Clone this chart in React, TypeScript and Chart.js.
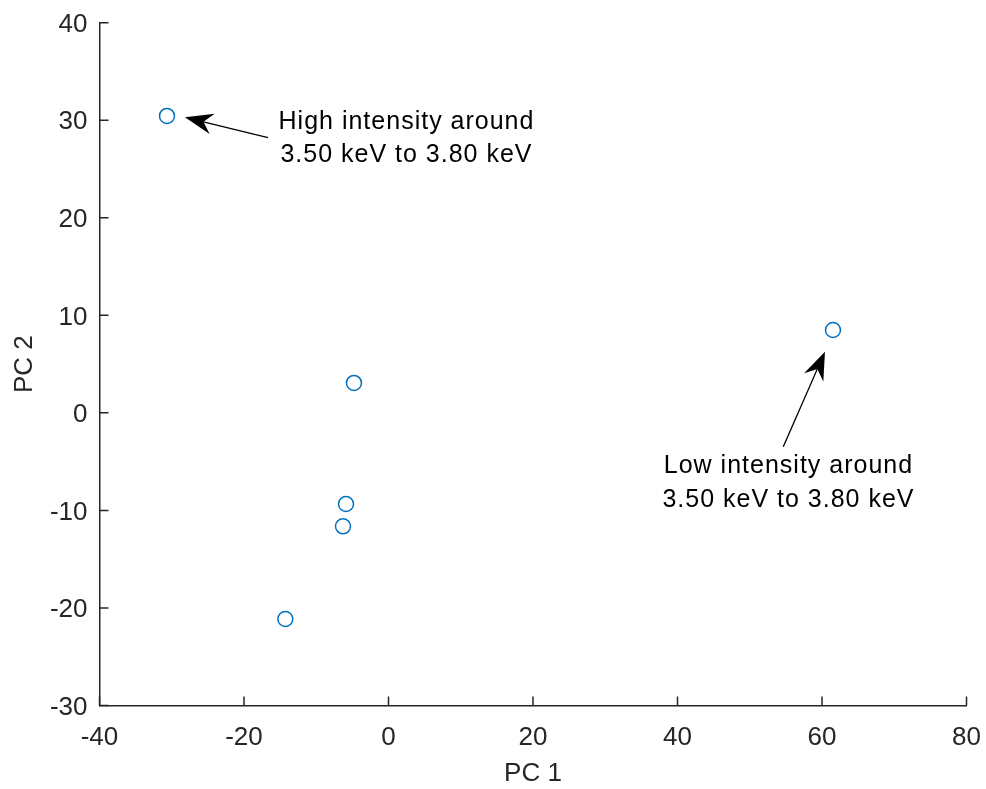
import React, { useEffect, useRef } from "react";
import { Chart, registerables } from "chart.js";

Chart.register(...registerables);

// ---- data ----
const pc1Values = [-30.66, 61.52, -4.78, -5.88, -6.3, -14.28];
const pc2Values = [30.44, 8.5, 3.07, -9.34, -11.63, -21.13];

const xTickValues = [-40, -20, 0, 20, 40, 60, 80];
const yTickValues = [-30, -20, -10, 0, 10, 20, 30, 40];

const xAxisTitle = "PC 1";
const yAxisTitle = "PC 2";

// annotation texts and their anchors (data coordinates)
const noteLines1 = ["High intensity around", "3.50 keV to 3.80 keV"];
const noteAnchor1 = [2.42, 29.79];
const arrow1 = { from: [-16.68, 28.21], to: [-28.17, 30.31] };

const noteLines2 = ["Low intensity around", "3.50 keV to 3.80 keV"];
const noteAnchor2 = [55.29, -5.47];
const arrow2 = { from: [54.64, -3.47], to: [60.41, 6.27] };

const FONT = '"Liberation Sans", Arial, Helvetica, sans-serif';
const AXIS_COLOR = "#262626";
const MARKER_COLOR = "#0072BD";

function drawArrow(ctx: CanvasRenderingContext2D, x1: number, y1: number, x2: number, y2: number) {
  const dx = x2 - x1;
  const dy = y2 - y1;
  const len = Math.hypot(dx, dy);
  const ux = dx / len;
  const uy = dy / len;
  const nx = -uy;
  const ny = ux;
  const L = 28;
  const W = 10.5;
  const notch = 19;
  ctx.save();
  ctx.strokeStyle = "#000";
  ctx.fillStyle = "#000";
  ctx.lineWidth = 1.3;
  ctx.beginPath();
  ctx.moveTo(x1, y1);
  ctx.lineTo(x2 - ux * notch, y2 - uy * notch);
  ctx.stroke();
  ctx.beginPath();
  ctx.moveTo(x2, y2);
  ctx.lineTo(x2 - ux * L + nx * W, y2 - uy * L + ny * W);
  ctx.lineTo(x2 - ux * notch, y2 - uy * notch);
  ctx.lineTo(x2 - ux * L - nx * W, y2 - uy * L - ny * W);
  ctx.closePath();
  ctx.fill();
  ctx.restore();
}

const decorPlugin = {
  id: "decor",
  afterDraw(chart: any) {
    const { ctx, chartArea, scales } = chart;
    const xs = scales.x;
    const ys = scales.y;
    ctx.save();
    // inward tick marks
    ctx.strokeStyle = AXIS_COLOR;
    ctx.lineWidth = 1.5;
    ctx.beginPath();
    xTickValues.forEach((v) => {
      const px = xs.getPixelForValue(v);
      ctx.moveTo(px, chartArea.bottom);
      ctx.lineTo(px, chartArea.bottom - 9);
    });
    yTickValues.forEach((v) => {
      const py = ys.getPixelForValue(v);
      ctx.moveTo(chartArea.left, py);
      ctx.lineTo(chartArea.left + 9, py);
    });
    ctx.stroke();

    // annotations
    ctx.font = `25px ${FONT}`;
    (ctx as any).letterSpacing = "1px";
    ctx.fillStyle = "#000";
    ctx.textAlign = "center";
    ctx.textBaseline = "middle";
    const ax1 = xs.getPixelForValue(noteAnchor1[0]);
    const ay1 = ys.getPixelForValue(noteAnchor1[1]);
    noteLines1.forEach((t, i) => ctx.fillText(t, ax1 + 0.5, ay1 + i * 33));
    const ax2 = xs.getPixelForValue(noteAnchor2[0]);
    const ay2 = ys.getPixelForValue(noteAnchor2[1]);
    noteLines2.forEach((t, i) => ctx.fillText(t, ax2 + 0.5, ay2 + i * 34));
    (ctx as any).letterSpacing = "0px";

    drawArrow(
      ctx,
      xs.getPixelForValue(arrow1.from[0]),
      ys.getPixelForValue(arrow1.from[1]),
      xs.getPixelForValue(arrow1.to[0]),
      ys.getPixelForValue(arrow1.to[1])
    );
    drawArrow(
      ctx,
      xs.getPixelForValue(arrow2.from[0]),
      ys.getPixelForValue(arrow2.from[1]),
      xs.getPixelForValue(arrow2.to[0]),
      ys.getPixelForValue(arrow2.to[1])
    );
    ctx.restore();
  },
};

export default function App() {
  const canvasRef = useRef<HTMLCanvasElement | null>(null);

  useEffect(() => {
    if (!canvasRef.current) return;
    const points = pc1Values.map((x, i) => ({ x, y: pc2Values[i] }));
    const chart = new Chart(canvasRef.current, {
      type: "scatter",
      data: {
        datasets: [
          {
            data: points,
            pointStyle: "circle",
            pointRadius: 7.5,
            pointHoverRadius: 7.5,
            pointBorderWidth: 1.5,
            pointBorderColor: MARKER_COLOR,
            pointBackgroundColor: "rgba(0,0,0,0)",
            showLine: false,
          },
        ],
      },
      options: {
        responsive: false,
        animation: false,
        events: [],
        layout: { padding: { left: 0, top: 22.7, right: 19.5, bottom: 0 } },
        plugins: {
          legend: { display: false },
          tooltip: { enabled: false },
        },
        scales: {
          x: {
            type: "linear",
            min: -40,
            max: 80,
            afterFit: (s: any) => {
              s.height = 83.5;
              s.paddingLeft = 0;
              s.paddingRight = 0;
            },
            afterBuildTicks: (s: any) => {
              s.ticks = xTickValues.map((v) => ({ value: v }));
            },
            grid: { display: false, drawTicks: false },
            border: { display: true, color: AXIS_COLOR, width: 1.5 },
            ticks: {
              padding: 17,
              color: AXIS_COLOR,
              font: { family: FONT, size: 26 },
              maxRotation: 0,
            },
            title: {
              display: true,
              text: xAxisTitle,
              color: AXIS_COLOR,
              font: { family: FONT, size: 26 },
              padding: { top: 0, bottom: 0 },
            },
          },
          y: {
            type: "linear",
            min: -30,
            max: 40,
            afterFit: (s: any) => {
              s.width = 99.5;
              s.paddingTop = 0;
              s.paddingBottom = 0;
            },
            afterBuildTicks: (s: any) => {
              s.ticks = yTickValues.map((v) => ({ value: v }));
            },
            grid: { display: false, drawTicks: false },
            border: { display: true, color: AXIS_COLOR, width: 1.5 },
            ticks: {
              padding: 12,
              labelOffset: 2,
              color: AXIS_COLOR,
              font: { family: FONT, size: 26 },
            },
            title: {
              display: true,
              text: yAxisTitle,
              color: AXIS_COLOR,
              font: { family: FONT, size: 26 },
              padding: { top: 9, bottom: 0 },
            },
          },
        },
      },
      plugins: [decorPlugin],
    });
    return () => chart.destroy();
  }, []);

  return (
    <div style={{ position: "absolute", left: 0, top: 0, width: 986, height: 789, background: "#fff" }}>
      <canvas ref={canvasRef} width={986} height={789} style={{ display: "block" }} />
    </div>
  );
}
